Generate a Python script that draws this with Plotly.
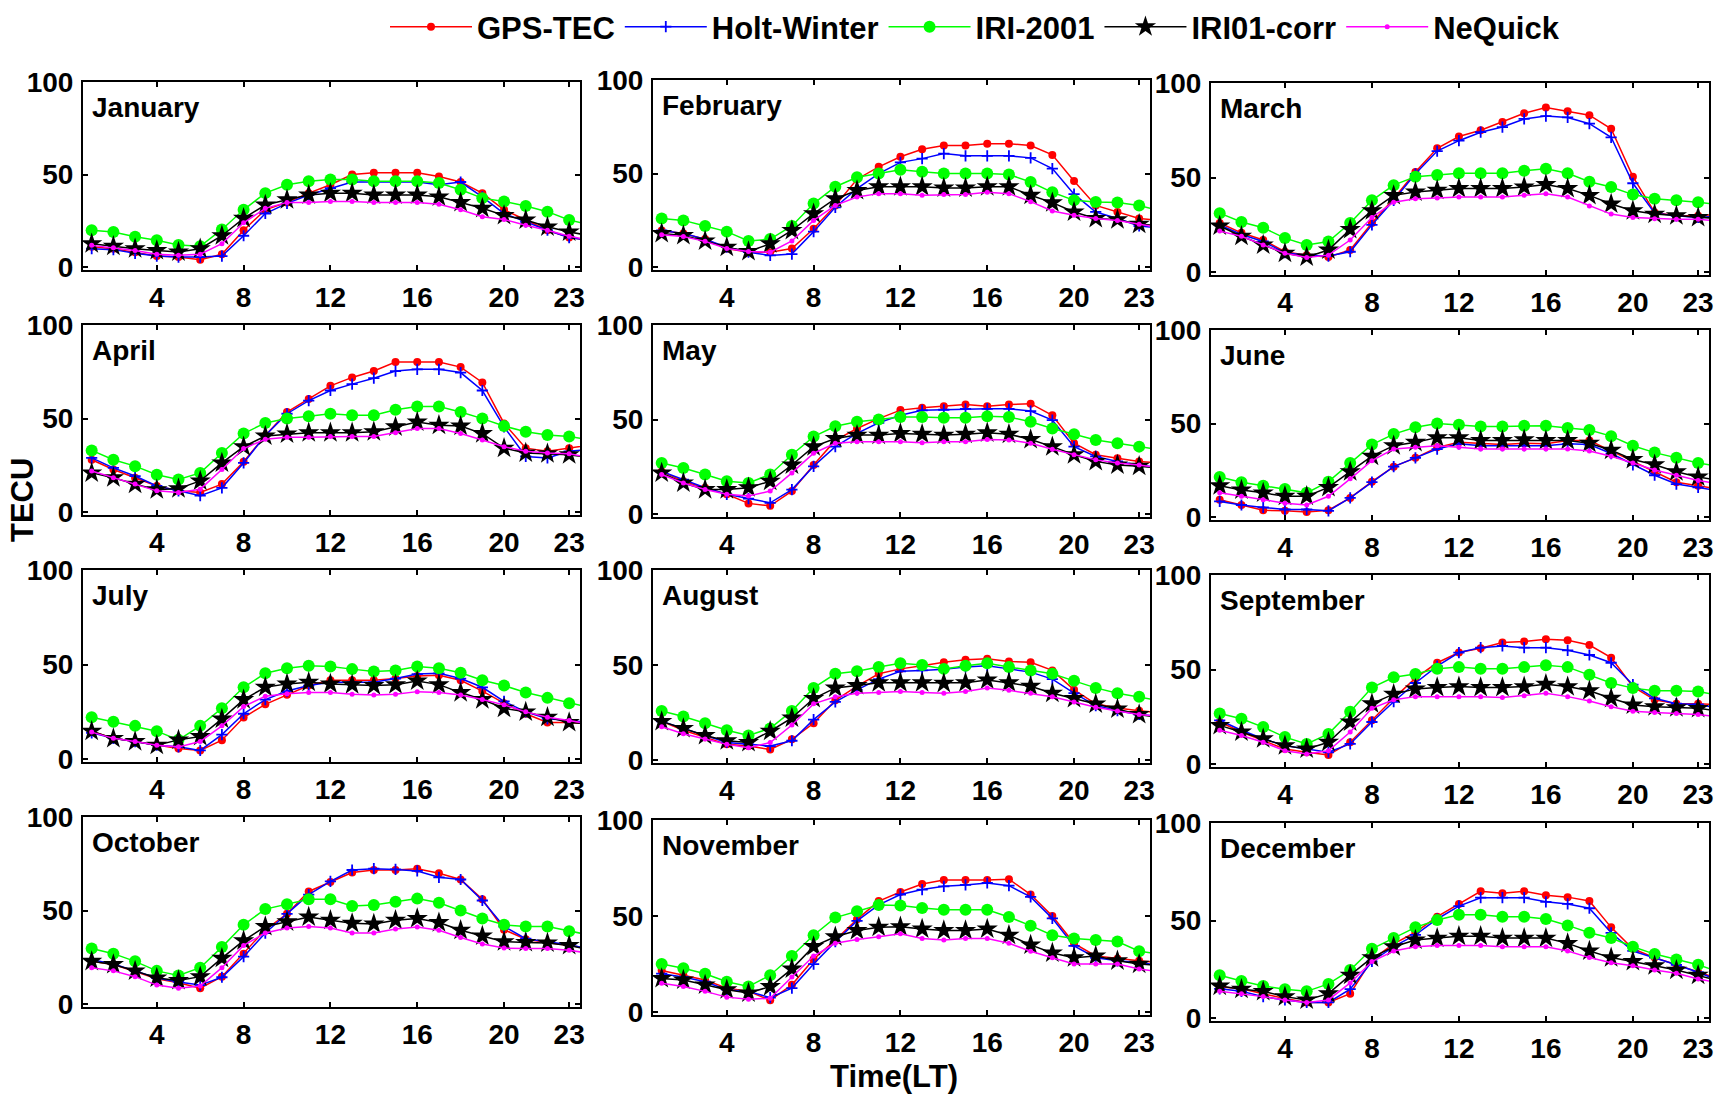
import plotly.graph_objects as go

hours = list(range(1, 25))
months = ["January", "February", "March", "April", "May", "June",
          "July", "August", "September", "October", "November", "December"]
series_names = ["GPS-TEC", "Holt-Winter", "IRI-2001", "IRI01-corr", "NeQuick"]
x_ticks = [4, 8, 12, 16, 20, 23]
y_ticks = [0, 50, 100]

gps_tec = [
    [11, 10, 8, 6, 5.5, 4, 7, 20, 31, 35, 40, 44.5, 50, 51, 51, 51, 49, 46, 40, 31, 25.5, 20, 16, 14.5],
    [19.6, 18, 15, 10, 8, 8, 10, 20.5, 33, 47, 53.6, 59, 63, 65, 65, 66, 66, 65, 60, 46, 33, 29.5, 26, 25],
    [26, 20.8, 17, 10.8, 9, 8, 11.7, 26, 38.8, 53, 65.5, 71.7, 75, 79.4, 84, 87, 85, 83, 75.8, 50.5, 31.6, 29.8, 29.8, 30.7],
    [28, 22.8, 18.4, 14, 11.4, 10.5, 15, 27, 41, 53.5, 60.5, 67.5, 72, 75.4, 80.2, 80.2, 80.2, 77.5, 69.3, 47.4, 34.2, 32.5, 34.2, 36],
    [22.6, 17.4, 14, 10.5, 5.7, 4.4, 12.2, 26, 39, 45.3, 50.5, 55, 56.3, 57, 58, 57, 58, 58.4, 52.3, 37.5, 31.4, 29.6, 27.9, 27],
    [9.3, 6.5, 3.7, 3.4, 2.8, 3.7, 10.3, 19, 27, 31.7, 37.3, 40, 39.2, 38.8, 39.5, 39.2, 41, 41, 35.4, 29.9, 24.3, 18.7, 16.8, 15],
    [14.8, 11, 9.3, 7.4, 5.6, 4.6, 10, 22, 29, 34, 38.9, 41.7, 41.7, 41.7, 42.6, 44, 44.4, 41.7, 36, 29.6, 24, 19.4, 19.4, 18.5],
    [20.4, 15.7, 12, 8.3, 7.4, 5.6, 11, 19.4, 31.5, 38.9, 45.4, 48, 49.6, 51.5, 52.8, 53.3, 51.9, 51.5, 47.2, 37, 29.6, 27.4, 26, 25],
    [22.3, 17, 12.5, 8, 6.3, 4.8, 11.6, 23.2, 34.8, 45.5, 53.6, 59, 61.3, 64.3, 64.8, 66, 65.5, 63, 56.3, 41, 34, 32, 32, 31.3],
    [22.9, 21.2, 17.5, 13.6, 11.4, 8.5, 14.7, 27, 39.8, 48.3, 60.2, 65.3, 70.3, 71.7, 71.7, 72.4, 70, 66.6, 56, 39.8, 34.7, 33, 31.4, 29.7],
    [21.7, 19.2, 16.7, 12.5, 10.8, 6.2, 14.2, 27.5, 37.5, 48.3, 57.8, 62.5, 66.7, 68.8, 68.8, 68.8, 69.2, 61.2, 50, 35.8, 29.2, 27.8, 26.7, 25.8],
    [16, 15, 12.5, 10, 8, 8, 12.5, 30, 38, 44, 52, 58.5, 65, 64, 65, 63, 62, 60, 46.5, 35.5, 31, 27.3, 23.5, 20],
]

holt_winter = [
    [10, 9.5, 7.5, 6, 5.5, 5.5, 6, 17, 29, 34.5, 39, 42.7, 46, 46, 46, 46, 44.5, 46, 38, 29, 24.5, 20, 16, 14.5],
    [19.6, 18, 15, 10.7, 8, 6.3, 7, 19, 32, 42, 50, 56, 58, 60.7, 59.5, 59.5, 59.5, 58.4, 52.7, 39, 29.5, 26, 22, 21],
    [25, 19.9, 16.2, 10.3, 9, 8.5, 10.8, 25, 38, 52, 64, 69.5, 74, 76.7, 81, 82.5, 81.8, 78.5, 71.3, 47, 31.2, 29.8, 28.9, 29.8],
    [29, 23.7, 19.3, 14, 11.4, 8.8, 13, 26.3, 41, 52.6, 59.6, 65, 68.4, 71.6, 75.4, 76.3, 76.3, 74.6, 65, 45.6, 29.8, 29, 32.5, 33.7],
    [22.6, 18.3, 14, 10.5, 8.2, 6, 13, 25.3, 35.7, 42.7, 48.3, 52.3, 54.9, 55.2, 55.7, 55.7, 55.7, 54.5, 49.7, 35.7, 30.5, 27.9, 26, 24.4],
    [8.4, 6.5, 5.2, 4.1, 4.1, 3.4, 10.3, 18.7, 27, 31.7, 36.4, 39.2, 38.2, 38.2, 38.2, 38.2, 39.2, 38.8, 34, 28, 22.4, 17.7, 15.9, 14],
    [13.9, 11, 9.3, 7.4, 6.5, 4.6, 13, 24, 31.5, 36, 38.9, 40.7, 40.7, 40.7, 42.6, 45, 45.4, 42.6, 38, 30.6, 25, 21.3, 20.4, 19.4],
    [20.4, 16.7, 13, 9.3, 8.3, 7.4, 10.2, 21.3, 30.6, 37, 42.6, 46.7, 47.2, 47.8, 49, 49.6, 48, 46.3, 42.6, 35.2, 28.7, 26, 24, 23],
    [23.2, 17.9, 13.4, 9.8, 8, 6.3, 10.7, 22.3, 33, 42.9, 51.8, 59, 61.6, 62.5, 61.6, 61.6, 60.2, 57.7, 53.6, 42, 34.8, 32, 31.6, 29.5],
    [23.7, 21.5, 17.8, 14, 11.9, 10.2, 14.4, 25.4, 38, 48.3, 58.5, 65.6, 71.7, 72.4, 72, 71.2, 67.8, 66.6, 55.4, 41.5, 35, 33.4, 31.7, 29.3],
    [20, 18.3, 15.8, 11.7, 10.8, 7.5, 12.5, 25, 36.7, 47.5, 55.8, 61.2, 63.8, 65.5, 66.2, 67.2, 65.8, 60, 48.8, 34.5, 28.3, 26.7, 25.8, 24.2],
    [15, 13.7, 11, 9.3, 8, 8, 14.8, 29, 36.6, 42.6, 50.8, 57.4, 61.7, 61.7, 61.7, 59.6, 58.5, 56.3, 43.7, 34.4, 31, 27.3, 23.5, 19],
]

iri_2001 = [
    [20, 19, 16.4, 14.5, 12, 11.3, 20.4, 31, 40, 44.5, 46.4, 47.3, 47.3, 46.4, 46.4, 46.4, 45.5, 41.8, 37.3, 35.5, 33, 30, 25.5, 22.7],
    [26, 25, 22, 19, 14, 15, 22, 34, 43, 48, 50, 52, 51, 50, 50, 50, 49.5, 45.5, 40, 35.7, 34.8, 34.5, 33, 30],
    [31.2, 26.5, 23.5, 18, 14.4, 16.2, 26, 38, 46, 50.5, 51.4, 52.3, 52.3, 52.3, 53.6, 54.7, 52.3, 47.8, 45, 41, 38.8, 38, 37, 35.6],
    [33, 28, 24.6, 20, 17.5, 21, 31.6, 42, 47.7, 50, 51.2, 52.6, 51.8, 51.8, 54.7, 56.5, 56.5, 53.5, 50, 46, 43, 41.2, 40.4, 38.6],
    [27, 24.4, 21, 17.4, 16.5, 21, 31.4, 41, 46.5, 48.8, 50, 51.4, 51.4, 51, 51, 51.7, 51.4, 48.8, 45.3, 42.3, 39.2, 37.5, 35.7, 34],
    [21.5, 18.7, 16.8, 15, 13, 19, 29, 38.8, 44.4, 48, 50, 49.4, 48.5, 48.5, 48.9, 48.9, 47.6, 46.6, 43.3, 38.2, 34.5, 31.7, 29, 27],
    [22.2, 19.8, 17.6, 14.8, 10.2, 17.6, 26.9, 38, 45.4, 48.1, 49.4, 49, 47.6, 46.3, 46.9, 49, 48.1, 45.7, 41.7, 38.9, 35.2, 32.4, 29.6, 27.2],
    [25.9, 23, 19.4, 15.7, 13, 16.7, 25.9, 38, 45.4, 46.7, 49, 51, 50, 48, 49.6, 51, 49, 47.2, 45.4, 41.7, 38, 35.2, 33.3, 31.1],
    [26.8, 24, 19.6, 14.3, 10.7, 16, 27.7, 40.5, 45.9, 47.7, 50.5, 51.3, 50.5, 50.5, 51.3, 52.3, 51.3, 47.3, 42.9, 40.2, 38.8, 38.8, 38.4, 36.2],
    [29.7, 27, 22.9, 17.8, 15.3, 19.5, 30.5, 42.4, 50.8, 53.4, 56, 56, 52.5, 53, 54.7, 56.4, 54.2, 50, 45.8, 42.4, 41.5, 41.5, 39, 36.8],
    [25, 22.8, 20, 15.8, 13.3, 19.2, 29.2, 40, 49.2, 52.5, 55.8, 55.5, 54.2, 53.3, 53.3, 53.3, 49.5, 45, 40, 38.3, 37.5, 36.7, 31.7, 30],
    [22, 19, 16.4, 14.8, 13.7, 17.5, 24.6, 35.5, 41, 46.5, 50.3, 53, 53, 52, 52, 50.8, 47.5, 43.7, 41, 36.6, 32.8, 30, 27.3, 23.5],
]

iri01_corr = [
    [12.7, 11.3, 10, 9, 8.2, 10, 17, 26.4, 33.6, 36.4, 39, 40, 40, 39, 39, 39, 38, 35, 31.8, 28, 25.5, 21.8, 19, 17],
    [18, 17, 14, 10.7, 8.4, 12.5, 19.6, 28.6, 36.6, 41, 43, 43, 43, 42.3, 42.3, 43, 43, 38.4, 34.5, 29.5, 26, 25.4, 23, 22],
    [24.4, 19, 14.4, 10, 8, 11.7, 22.6, 32.5, 40.6, 42.4, 43.3, 44.2, 44.2, 44.2, 45, 46.4, 44.2, 40.6, 36, 32.5, 30.7, 29.8, 28.9, 28.3],
    [21, 18.4, 15, 12, 12.6, 16.7, 26.3, 35, 40.7, 41.8, 42.5, 42.5, 42.5, 43, 45.6, 48.2, 46.5, 46, 42, 34.2, 31.6, 31.2, 30.7, 29],
    [21.8, 16.5, 13, 13, 14, 17.4, 26, 35.7, 40, 41.8, 41.8, 42.7, 42.3, 41.8, 42.3, 43, 42.3, 39.5, 35.7, 31.4, 27.9, 26, 25.3, 24.4],
    [16.8, 14.5, 13, 11.2, 11.2, 15.9, 24.3, 32.6, 38.2, 40, 42.5, 42.5, 41, 41, 41.4, 41, 41, 39.5, 35.8, 30.8, 28, 24.3, 21.5, 19.6],
    [14.8, 11, 9.3, 7.4, 10.2, 12, 21.3, 31.5, 38, 39.8, 40.7, 39.8, 39.4, 38.9, 39.4, 41.3, 39.4, 35.2, 31.5, 26.9, 25, 22.2, 19.4, 18.5],
    [20.4, 16.7, 13, 10.2, 9.3, 15.2, 22.2, 32.4, 38, 39.3, 40.7, 40.7, 40.7, 40.4, 40.7, 42.2, 40.7, 38.9, 35.2, 32.4, 29.6, 26.9, 24, 22.2],
    [20.5, 17, 13.4, 9.8, 8, 11.6, 22.3, 32, 37, 39.8, 40.5, 41, 40.5, 40.5, 41, 42.3, 41, 38.8, 34.8, 31.3, 30.4, 29.8, 29.5, 28],
    [22.9, 21.2, 17.8, 14, 12.7, 14.7, 24.6, 33.9, 41.5, 44, 46.6, 44.9, 43.2, 42.9, 44.9, 45.8, 43.6, 39.5, 36.4, 33.4, 33, 32.7, 31.4, 28.8],
    [17.5, 16.7, 14.2, 11.7, 10, 13.3, 22.5, 34.2, 39.2, 42.5, 44.2, 44.5, 43.3, 42.5, 42.5, 43.3, 40, 35, 30.8, 28.3, 29.2, 26.7, 25, 24.2],
    [16.4, 14.8, 13.7, 11, 9.3, 12.5, 22, 31, 36.6, 40, 41, 42, 42, 41, 41, 41, 38.3, 34.4, 31, 29, 26.8, 24.6, 22, 19],
]

nequick = [
    [11.8, 10.5, 9, 7, 6.4, 7, 12.7, 24, 31.8, 35, 35, 35.5, 35.5, 35, 35, 35, 34, 31, 27.3, 25.8, 22.7, 20, 16.7, 14.5],
    [17.3, 16.4, 13.8, 10, 8.4, 8, 14, 25, 33, 37.5, 39.3, 39.3, 38.4, 38.8, 38.8, 40, 39.3, 35, 30, 27.7, 26, 25, 23, 21],
    [21.7, 19, 14.4, 10, 7.8, 9, 17, 28.9, 37, 38.8, 39.2, 39.7, 39.7, 39.7, 40.6, 41.5, 39.7, 35, 30.7, 28.9, 28.3, 28, 28, 27],
    [22, 18.4, 15, 11.4, 10.5, 12.3, 22.8, 34, 39, 40, 40, 40.4, 40.4, 40.4, 42.5, 44.7, 44.7, 42, 38.6, 35, 32.5, 31.6, 31.2, 29],
    [21, 16.5, 13, 10.5, 9.6, 12.2, 21.8, 32.2, 37.5, 38.3, 38.3, 38.3, 37.8, 38.3, 38.3, 39.5, 39.2, 37.5, 34.3, 31.4, 28.7, 27, 26, 24.4],
    [13, 11.2, 9.3, 7.5, 6.5, 11.2, 20.5, 30.2, 36.4, 37.3, 38.2, 37.3, 36.4, 36.4, 36.4, 36.4, 36.4, 35.4, 32.6, 29, 25.2, 22.4, 19.6, 17.7],
    [14.3, 11, 9.3, 7.4, 6.5, 9.3, 17.6, 27.8, 33.3, 34.6, 35.2, 35.2, 34.3, 33.9, 34.3, 35.7, 35.2, 33.9, 31.5, 28.7, 25, 22.2, 20.4, 18.5],
    [17.6, 13.9, 11.1, 8.3, 6.5, 9.3, 18.5, 29.6, 33.3, 35.2, 35.6, 36.1, 35.6, 35.2, 36.1, 38, 36.7, 35.2, 33.3, 30.6, 27.8, 25.9, 24, 23],
    [17.9, 15.2, 11.6, 7.1, 5.4, 7.1, 17, 29.5, 34, 35.7, 35.7, 35.7, 35.7, 35.2, 36.2, 37.5, 35.7, 33.4, 30.4, 28, 27.3, 26.8, 26.3, 25],
    [19.5, 17.8, 14.7, 10.2, 8.5, 9.7, 19.5, 31.4, 38, 40.7, 41.5, 40.7, 38, 38, 40.2, 41.2, 39.5, 35.6, 32.2, 30, 29.7, 29.7, 28.8, 27.1],
    [15, 13.3, 10.8, 7.8, 6.7, 7.2, 18.3, 29.2, 35.8, 37.8, 39.2, 40.8, 38.3, 37.5, 38.3, 38.3, 35.8, 31.7, 28.3, 25, 25, 25, 22.5, 20.8],
    [13.7, 12.5, 11, 9.3, 8, 9.3, 18, 29, 34.4, 36.6, 37.2, 37.2, 37.2, 36.6, 36.6, 36.6, 34.4, 31, 28.4, 26.8, 24.6, 23, 20, 18],
]

all_series = [gps_tec, holt_winter, iri_2001, iri01_corr, nequick]

# ---------------- styling ----------------
W, H = 1726, 1094
FONT = "Liberation Sans, Arial, Helvetica, sans-serif"
styles = [
    dict(color="#FF0000", symbol="circle", size=8, mline=0),
    dict(color="#0000FF", symbol="cross-thin", size=8, mline=1.8),
    dict(color="#00FF00", symbol="circle", size=12, mline=0),
    dict(color="#000000", symbol="star", size=16, mline=0),
    dict(color="#FF00FF", symbol="circle", size=5, mline=0),
]

# panel boxes in pixels: (left, right, top, bottom)
col_x = [(83, 580), (653, 1150), (1211, 1709)]
row_y = [
    [(82, 270), (80, 270), (83, 275)],
    [(325, 515), (325, 517), (330, 520)],
    [(570, 762), (570, 763), (575, 767)],
    [(817, 1007), (820, 1015), (823, 1021)],
]

fig = go.Figure()
annotations = []
for m in range(12):
    r, c = divmod(m, 3)
    idx = m + 1
    xa = "x" if idx == 1 else f"x{idx}"
    ya = "y" if idx == 1 else f"y{idx}"
    for s in range(5):
        st = styles[s]
        marker = dict(color=st["color"], symbol=st["symbol"], size=st["size"])
        if st["mline"]:
            marker["line"] = dict(color=st["color"], width=st["mline"])
        fig.add_trace(go.Scatter(
            x=hours, y=all_series[s][m], mode="lines+markers",
            name=series_names[s], legendgroup=series_names[s],
            showlegend=(m == 0),
            line=dict(color=st["color"], width=1.5),
            marker=marker, xaxis=xa, yaxis=ya, cliponaxis=True,
        ))
    x0, x1 = col_x[c]
    y0, y1 = row_y[r][c]
    axis_common = dict(showline=True, linecolor="black", linewidth=2, mirror="allticks",
                       ticks="inside", ticklen=5, tickwidth=1.5, tickcolor="black",
                       showgrid=False, zeroline=False,
                       tickfont=dict(family=FONT, size=28, color="black", weight="bold"))
    fig.update_layout(**{
        ("xaxis" if idx == 1 else f"xaxis{idx}"): dict(
            domain=[x0 / W, x1 / W], range=[0.6, 23.5], tickvals=x_ticks,
            anchor=ya, ticklabelstandoff=1, **axis_common),
        ("yaxis" if idx == 1 else f"yaxis{idx}"): dict(
            domain=[1 - y1 / H, 1 - y0 / H], range=[-1.5, 100], tickvals=y_ticks,
            anchor=xa, ticklabelstandoff=2, **axis_common),
    })
    annotations.append(dict(
        text=months[m], xref=f"{xa} domain", yref=f"{ya} domain", x=0.015, y=0.96,
        xanchor="left", yanchor="top", showarrow=False,
        font=dict(family=FONT, size=28, color="black", weight="bold")))

annotations.append(dict(text="TECU", xref="paper", yref="paper", x=22 / W, y=1 - 500 / H,
                        textangle=-90, showarrow=False, xanchor="center", yanchor="middle",
                        font=dict(family=FONT, size=31, color="black", weight="bold")))
annotations.append(dict(text="Time(LT)", xref="paper", yref="paper", x=894 / W, y=1 - 1076 / H,
                        showarrow=False, xanchor="center", yanchor="middle",
                        font=dict(family=FONT, size=31, color="black", weight="bold")))

fig.update_layout(
    width=W, height=H, margin=dict(l=0, r=0, t=0, b=0, autoexpand=False),
    paper_bgcolor="white", plot_bgcolor="white",
    annotations=annotations,
    legend=dict(orientation="h", x=385 / W, y=1.0, xanchor="left", yanchor="top",
                font=dict(family=FONT, size=31, color="black", weight="bold"),
                itemwidth=82, bgcolor="rgba(0,0,0,0)", tracegroupgap=0),
)

fig.write_html("out.html")
